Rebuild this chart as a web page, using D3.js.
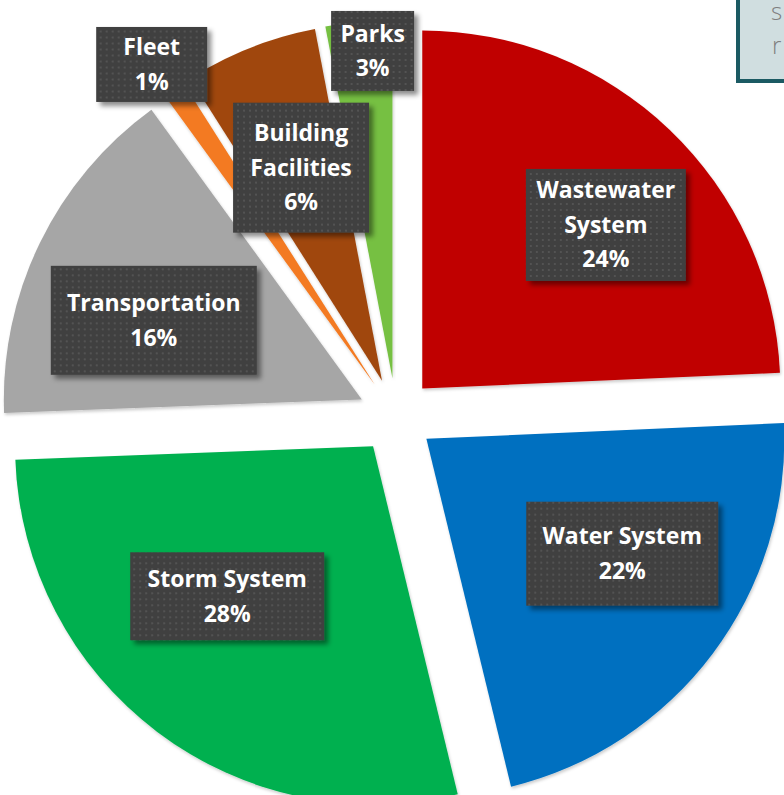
<!DOCTYPE html>
<meta charset="UTF-8">
<head>
<script src="https://d3js.org/d3.v7.min.js"></script>
<style>
body { margin: 0; background: #fff; }
svg { display: block; }
.lbl text { font-family: "Open Sans", sans-serif; font-weight: 700; font-size: 23px; fill: #fff; }
.note text { font-family: "Open Sans", sans-serif; font-weight: 300; font-size: 24px; fill: #7f7f7f; }
</style>
</head>
<body>
<div id="chart"></div>
<script>

// data, clockwise from 12 o'clock (percent of total)
var categories = ["Wastewater System", "Water System", "Storm System", "Transportation", "Fleet", "Building Facilities", "Parks"];
var shares = [24.3, 21.9, 28.2, 15.6, 1.0, 6.0, 3.0];
var colors = ["#c00000", "#0070c0", "#00b050", "#a6a6a6", "#f37a21", "#a0460c", "#76c043"];

// label placement: angle (deg) and distance from slice tip, box size, wrap
var labelLayout = [
  {a: 48,    r: 243, w: 160, h: 112, wrap: true},
  {a: 121,   r: 225, w: 192, h: 104, wrap: false},
  {a: 224.6, r: 212, w: 194, h: 88,  wrap: false},
  {a: 290.3, r: 225, w: 206, h: 109, wrap: false},
  {a: 324.7, r: 391, w: 111, h: 75,  wrap: false},
  {a: 338.4, r: 228, w: 136, h: 130, wrap: true},
  {a: 356,   r: 327, w: 83,  h: 80,  wrap: false}
];

var width = 784, height = 795;
var cx = 396, cy = 416, R = 358, explode = 38;

var svg = d3.select("#chart").append("svg")
    .attr("width", width)
    .attr("height", height);

var defs = svg.append("defs");

var pat = defs.append("pattern")
    .attr("id", "dots")
    .attr("width", 6).attr("height", 6)
    .attr("patternUnits", "userSpaceOnUse");
pat.append("rect").attr("width", 6).attr("height", 6).attr("fill", "#404040");
pat.append("rect").attr("x", 2).attr("y", 2).attr("width", 2).attr("height", 2).attr("fill", "#535353");

var shadow = defs.append("filter").attr("id", "boxShadow")
    .attr("x", "-10%").attr("y", "-10%").attr("width", "130%").attr("height", "130%");
shadow.append("feDropShadow")
    .attr("dx", 4).attr("dy", 4).attr("stdDeviation", 2.5)
    .attr("flood-color", "#000").attr("flood-opacity", 0.45);

var sliceShadow = defs.append("filter").attr("id", "sliceShadow")
    .attr("x", "-5%").attr("y", "-5%").attr("width", "110%").attr("height", "110%");
sliceShadow.append("feDropShadow")
    .attr("dx", 1).attr("dy", 2).attr("stdDeviation", 1.5)
    .attr("flood-color", "#000").attr("flood-opacity", 0.2);

var rad = function(deg) { return deg * Math.PI / 180; };

var pie = d3.pie().sort(null).value(function(d) { return d; });
var arcs = pie(shares);
var arc = d3.arc().innerRadius(0).outerRadius(R);

var g = svg.append("g").attr("transform", "translate(" + cx + "," + cy + ")");

// offset of each slice's tip
function tip(d) {
  var mid = (d.startAngle + d.endAngle) / 2;
  return [explode * Math.sin(mid), -explode * Math.cos(mid)];
}

g.selectAll("path.slice")
  .data(arcs)
  .enter().append("path")
    .attr("class", "slice")
    .attr("d", arc)
    .attr("fill", function(d, i) { return colors[i]; })
    .attr("filter", "url(#sliceShadow)")
    .attr("transform", function(d) { var t = tip(d); return "translate(" + t[0] + "," + t[1] + ")"; });

// data labels
var lbl = g.selectAll("g.lbl")
  .data(arcs)
  .enter().append("g")
    .attr("class", "lbl")
    .attr("transform", function(d, i) {
      var t = tip(d), L = labelLayout[i];
      var x = t[0] + L.r * Math.sin(rad(L.a)) + 3;
      var y = t[1] - L.r * Math.cos(rad(L.a)) - 1;
      return "translate(" + x + "," + y + ")";
    });

lbl.append("rect")
    .attr("x", function(d, i) { return -labelLayout[i].w / 2; })
    .attr("y", function(d, i) { return -labelLayout[i].h / 2; })
    .attr("width", function(d, i) { return labelLayout[i].w; })
    .attr("height", function(d, i) { return labelLayout[i].h; })
    .attr("fill", "url(#dots)")
    .attr("filter", "url(#boxShadow)");

lbl.each(function(d, i) {
  var name = categories[i];
  var lines = labelLayout[i].wrap ? name.split(" ") : [name];
  lines.push(Math.round(shares[i]) + "%");
  var lh = 34.5;
  var top = -(lines.length - 1) * lh / 2;
  d3.select(this).selectAll("text")
    .data(lines)
    .enter().append("text")
      .attr("text-anchor", "middle")
      .attr("x", 0)
      .attr("y", function(s, k) { return top + k * lh + 8; })
      .text(function(s) { return s; });
});

// partially visible note box, top right
var note = svg.append("g").attr("class", "note");
note.append("rect")
    .attr("x", 738).attr("y", -10)
    .attr("width", 60).attr("height", 91)
    .attr("fill", "#d0dee0")
    .attr("stroke", "#1b5a63")
    .attr("stroke-width", 4);
note.append("text").attr("x", 771).attr("y", 20).text("s");
note.append("text").attr("x", 772).attr("y", 54).text("r");

</script>
</body>
